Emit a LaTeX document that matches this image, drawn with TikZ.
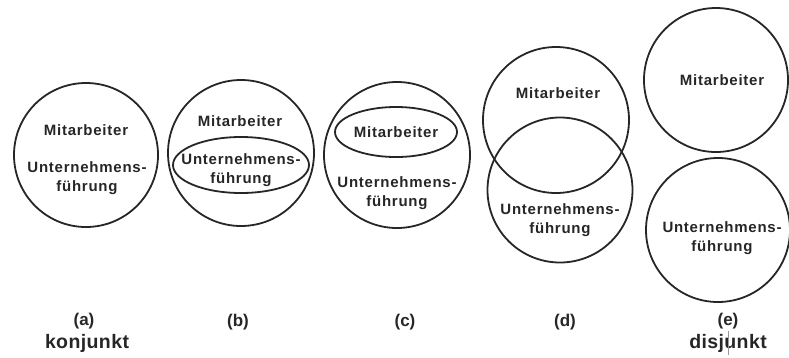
\documentclass[tikz,border=0pt]{standalone}
\usepackage{fontspec}
\setmainfont{Liberation Sans}
\usetikzlibrary{shapes.geometric}
\tikzset{
  setc/.style={draw=black!85, circle, line width=1.8pt, inner sep=0pt, minimum size=#1},
  sete/.style={draw=black!85, ellipse, line width=1.8pt, inner sep=0pt},
  txt/.style={text=black!85, align=center, inner sep=0pt, font=\fontsize{15}{18.5}\selectfont\bfseries\addfontfeature{LetterSpace=5}},
  lblsm/.style={text=black!85, inner sep=0pt, font=\fontsize{17}{20}\selectfont\bfseries},
  lblbig/.style={text=black!85, inner sep=0pt, font=\fontsize{19.5}{22}\selectfont\bfseries\addfontfeature{LetterSpace=2}}
}
\begin{document}
\begin{tikzpicture}[x=1pt,y=-1pt]
\useasboundingbox (0,0) rectangle (789,357);
% (a)
\node[setc=144pt] (ca) at (86,155) {};
\node[txt] (ta1) at (86,130) {Mitarbeiter};
\node[txt] (ta2) at (87,178) {Unternehmens-\\führung};
% (b)
\node[setc=146pt] (cb) at (241,153) {};
\node[sete, minimum width=136pt, minimum height=56pt] (eb) at (241,165) {};
\node[txt] (tb1) at (240,121) {Mitarbeiter};
\node[txt] (tb2) at (241,170) {Unternehmens-\\führung};
% (c)
\node[setc=146pt] (cc) at (397,155) {};
\node[sete, minimum width=122pt, minimum height=50pt] (ec) at (396,132) {};
\node[txt] (tc1) at (396,132) {Mitarbeiter};
\node[txt] (tc2) at (397,193) {Unternehmens-\\führung};
% (d)
\node[setc=146pt] (cd1) at (556,120) {};
\node[setc=145pt] (cd2) at (560,190) {};
\node[txt] (td1) at (558,93) {Mitarbeiter};
\node[txt] (td2) at (560,220) {Unternehmens-\\führung};
% (e)
\node[setc=144pt] (ce1) at (716,80) {};
\node[setc=144pt] (ce2) at (718,230) {};
\node[txt] (te1) at (722,80) {Mitarbeiter};
\node[txt] (te2) at (722,238) {Unternehmens-\\führung};
% captions
\node[lblsm] (la) at (84,321) {(a)};
\node[lblbig] (ka) at (87,343) {konjunkt};
\node[lblsm] (lb) at (238,322) {(b)};
\node[lblsm] (lc) at (405,322) {(c)};
\node[lblsm] (ld) at (565,322) {(d)};
\node[lblsm] (le) at (728,321) {(e)};
\node[lblbig] (ke) at (728,343) {disjunkt};
\coordinate (m1) at (728,331);
\coordinate (m2) at (728,355);
\draw[black!40, line width=0.5pt] (m1) -- (m2);
\end{tikzpicture}
\end{document}
